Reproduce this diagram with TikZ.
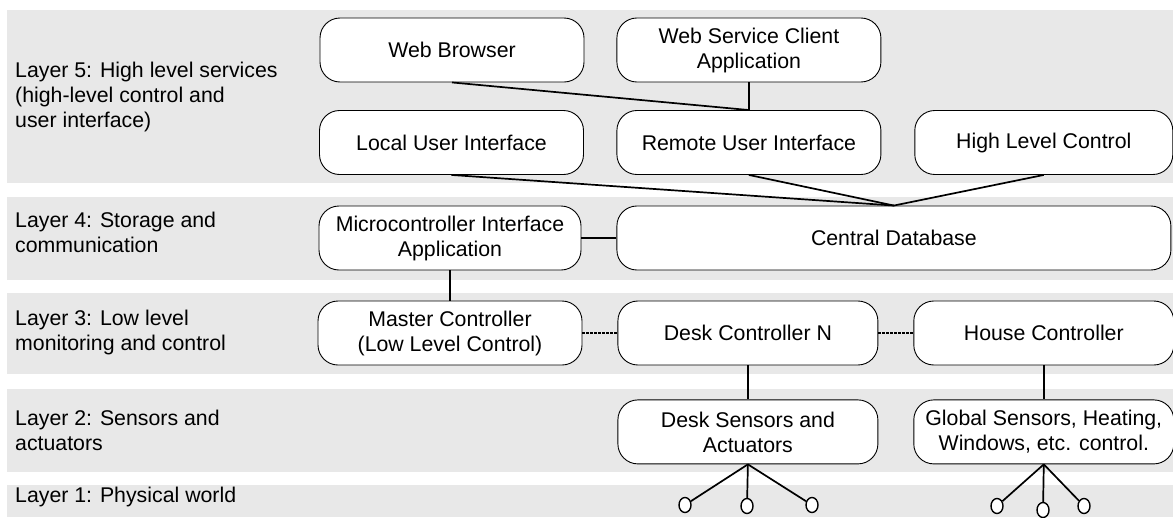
\documentclass[tikz,border=0pt]{standalone}
\usepackage{fontspec}
\setmainfont{Liberation Sans}
\usepackage{xcolor}
\usetikzlibrary{shapes.geometric, positioning}
\definecolor{bandgray}{HTML}{E8E8E8}

\begin{document}
\begin{tikzpicture}[
    x=1pt, y=-1pt,
    node distance=32pt,
    box/.style={rectangle, draw, rounded corners=20pt, fill=white, line width=0.9pt, minimum width=264pt, minimum height=64pt, inner sep=0pt, align=center, font=\fontsize{21.3}{25}\selectfont},
    band/.style={fill=bandgray, draw=none},
    layer/.style={anchor=west, align=left, inner sep=0pt, font=\fontsize{21.3}{25}\selectfont},
    link/.style={line width=1.7pt},
    dotlink/.style={line width=1.5pt, dash pattern=on 2.5pt off 1.5pt},
    leaf/.style={ellipse, draw, fill=white, line width=1.4pt, minimum width=12pt, minimum height=15pt, inner sep=0pt}
]
\useasboundingbox (0,0) rectangle (1173,517);

\fill[band] (7,10) rectangle (1173,183);
\fill[band] (7,197) rectangle (1173,280);
\fill[band] (7,293) rectangle (1173,374);
\fill[band] (7,389) rectangle (1173,472);
\fill[band] (7,485) rectangle (1173,517);

\node[layer] (l5) at (15,97) {Layer 5: High level services\\(high-level control and\\user interface)};
\node[layer] (l4) at (15,232) {Layer 4: Storage and\\communication};
\node[layer] (l3) at (15,332) {Layer 3: Low level\\monitoring and control};
\node[layer] (l2) at (15,430) {Layer 2: Sensors and\\actuators};
\node[layer] (l1) at (15,497) {Layer 1: Physical world};

\node[box] (web) at (452,50) {Web Browser};
\node[box, right=of web] (wsc) {Web Service Client\\Application};

\node[box] (local) at (451.5,142.5) {Local User Interface};
\node[box, right=32.5pt of local] (remote) {Remote User Interface};
\node[box, minimum width=258pt, right=33pt of remote] (hlc) {High Level Control};

\node[box, minimum width=262pt] (mia) at (450,238) {Microcontroller Interface\\Application};
\node[box, minimum width=554pt, right=35pt of mia] (cdb) {Central Database};

\node[box] (master) at (450,333) {Master Controller\\(Low Level Control)};
\node[box, minimum width=260pt, right=35pt of master] (desk) {Desk Controller N};
\node[box, minimum width=260pt, right=35pt of desk] (house) {House Controller};

\node[box, minimum width=260pt, below=34pt of desk] (dsens) {Desk Sensors and\\Actuators};
\node[box, minimum width=260pt, below=34pt of house] (gsens) {Global Sensors, Heating,\\Windows, etc. control.};

\node[leaf] (d1) at (685,505) {};
\node[leaf] (d2) at (747,506) {};
\node[leaf] (d3) at (812,505) {};
\node[leaf] (g1) at (997,506) {};
\node[leaf] (g2) at (1043,510) {};
\node[leaf] (g3) at (1084,506) {};

\draw[link] (web.south) -- (remote.north);
\draw[link] (wsc) -- (remote);
\draw[link] (local.south) -- (cdb.north);
\draw[link] (remote.south) -- (cdb.north);
\draw[link] (hlc.south) -- (cdb.north);
\draw[link] (mia) -- (cdb);
\draw[link] (mia) -- (master);
\draw[dotlink] (master) -- (desk);
\draw[dotlink] (desk) -- (house);
\draw[link] (desk) -- (dsens);
\draw[link] (house) -- (gsens);

\foreach \leaf in {d1, d2, d3}
    \draw[link] (dsens.south) -- (\leaf);
\foreach \leaf in {g1, g2, g3}
    \draw[link] (gsens.south) -- (\leaf);

\end{tikzpicture}
\end{document}
